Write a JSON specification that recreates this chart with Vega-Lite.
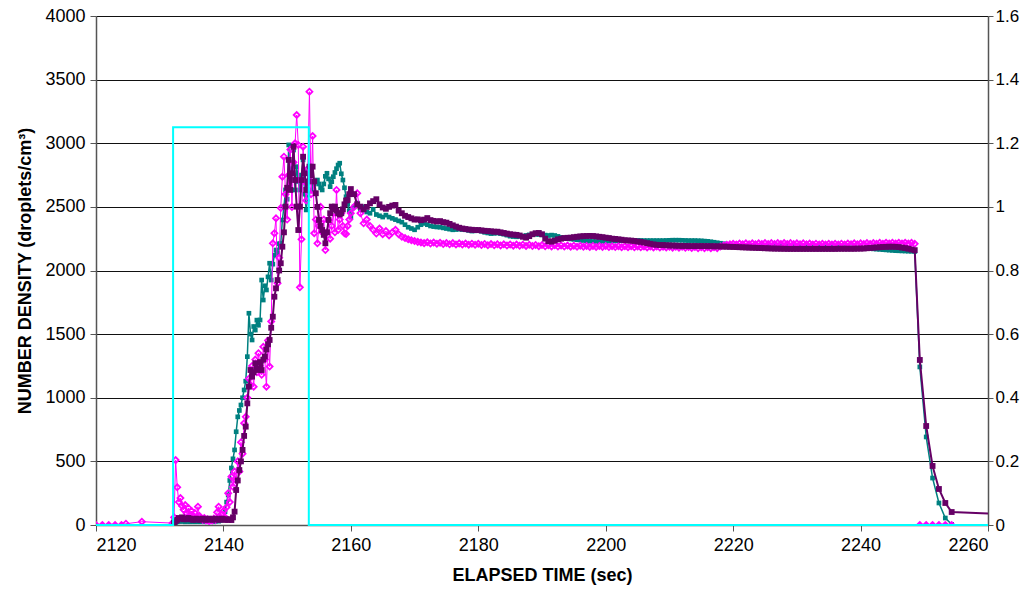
{
"$schema": "https://vega.github.io/schema/vega-lite/v6.json",
"width": 892, "height": 509,
"autosize": {"type": "none"},
"padding": {"left": 96, "top": 16, "right": 33, "bottom": 70},
"background": "white",
"config": {
 "view": {"stroke": null},
 "font": "Liberation Sans",
 "axis": {"labelFont": "Liberation Sans", "labelFontSize": 18, "labelColor": "#000", "titleFont": "Liberation Sans", "titleFontSize": 18, "titleFontWeight": "bold", "titleColor": "#000", "domainColor": "#555", "domainWidth": 1.5, "tickColor": "#555", "tickSize": 6, "labelPadding": 5, "gridColor": "#111", "gridWidth": 1}
},
"datasets": {
"main": [
{"t":2120,"m":0},{"t":2121,"m":0},{"t":2122,"m":0},{"t":2123,"m":0},{"t":2124,"m":0},
{"t":2124.7,"m":10},{"t":2127.2,"m":26},{"t":2132,"m":15},
{"t":2132.25,"g":15,"p":20,"m":60},
{"t":2132.5,"g":20,"p":30,"m":510},
{"t":2132.75,"g":25,"p":40,"m":296},
{"t":2133,"g":30,"p":55,"m":180},
{"t":2133.25,"g":28,"p":50,"m":212},
{"t":2133.5,"g":32,"p":60,"m":150},
{"t":2133.75,"g":30,"p":45,"m":120},
{"t":2134,"g":25,"p":50,"m":157},
{"t":2134.25,"g":30,"p":45,"m":90},
{"t":2134.5,"g":28,"p":55,"m":134},
{"t":2134.75,"g":25,"p":50,"m":80},
{"t":2135,"g":30,"p":45,"m":110},
{"t":2135.25,"g":28,"p":40,"m":70},
{"t":2135.5,"g":25,"p":45,"m":95},
{"t":2135.75,"g":30,"p":50,"m":60},
{"t":2136,"g":28,"p":45,"m":144},
{"t":2136.25,"g":25,"p":40,"m":70},
{"t":2136.5,"g":30,"p":45,"m":50},
{"t":2136.75,"g":28,"p":50,"m":40},
{"t":2137,"g":25,"p":45,"m":55},
{"t":2137.25,"g":30,"p":40,"m":35},
{"t":2137.5,"g":28,"p":45,"m":45},
{"t":2137.75,"g":25,"p":50,"m":30},
{"t":2138,"g":30,"p":45,"m":40},
{"t":2138.25,"g":28,"p":40,"m":35},
{"t":2138.5,"g":25,"p":45,"m":50},
{"t":2138.75,"g":30,"p":50,"m":40},
{"t":2139,"g":35,"p":45,"m":100},
{"t":2139.25,"g":30,"p":40,"m":144},
{"t":2139.5,"g":35,"p":45,"m":60},
{"t":2139.75,"g":40,"p":50,"m":80},
{"t":2140,"g":50,"p":45,"m":110},
{"t":2140.25,"g":105,"p":40,"m":60},
{"t":2140.5,"g":180,"p":45,"m":140},
{"t":2140.75,"g":236,"p":40,"m":250},
{"t":2141,"g":350,"p":45,"m":180},
{"t":2141.25,"g":448,"p":39,"m":380},
{"t":2141.5,"g":520,"p":60,"m":300},
{"t":2141.75,"g":590,"p":105,"m":420},
{"t":2142,"g":733,"p":275,"m":350},
{"t":2142.25,"g":850,"p":350,"m":500},
{"t":2142.5,"g":900,"p":432,"m":420},
{"t":2142.75,"g":943,"p":500,"m":650},
{"t":2143,"g":1000,"p":590,"m":560},
{"t":2143.25,"g":1061,"p":700,"m":800},
{"t":2143.5,"g":1130,"p":773,"m":850},
{"t":2143.75,"g":1323,"p":956,"m":1000},
{"t":2144,"g":1664,"p":1087,"m":1150},
{"t":2144.25,"g":1500,"p":1218,"m":1100},
{"t":2144.5,"g":1454,"p":1166,"m":1250},
{"t":2144.75,"g":1560,"p":1200,"m":1087},
{"t":2145,"g":1532,"p":1271,"m":1300},
{"t":2145.25,"g":1610,"p":1230,"m":1200},
{"t":2145.5,"g":1570,"p":1218,"m":1350},
{"t":2145.75,"g":1611,"p":1280,"m":1250},
{"t":2146,"g":1925,"p":1218,"m":1180},
{"t":2146.25,"g":1768,"p":1300,"m":1400},
{"t":2146.5,"g":1880,"p":1323,"m":1300},
{"t":2146.75,"g":1847,"p":1380,"m":1087},
{"t":2147,"g":1950,"p":1420,"m":1450},
{"t":2147.25,"g":2057,"p":1454,"m":1245},
{"t":2147.5,"g":1925,"p":1550,"m":1600},
{"t":2147.75,"g":2050,"p":1637,"m":2214},
{"t":2148,"g":2120,"p":1794,"m":2293},
{"t":2148.25,"g":2161,"p":1860,"m":2410},
{"t":2148.5,"g":2135,"p":1925,"m":1900},
{"t":2148.75,"g":2210,"p":2000,"m":2100},
{"t":2149,"g":2214,"p":2057,"m":2491},
{"t":2149.25,"g":2397,"p":2187,"m":2737},
{"t":2149.5,"g":2500,"p":2300,"m":2894},
{"t":2149.75,"g":2633,"p":2502,"m":2600},
{"t":2150,"g":2560,"p":2650,"m":2400},
{"t":2150.25,"g":2987,"p":2869,"m":2750},
{"t":2150.5,"g":2711,"p":2633,"m":2950},
{"t":2150.75,"g":2800,"p":2764,"m":2500},
{"t":2151,"g":2947,"p":2973,"m":2850},
{"t":2151.25,"g":2633,"p":2711,"m":3000},
{"t":2151.5,"g":2816,"p":2502,"m":3222},
{"t":2151.75,"g":2700,"p":2318,"m":2987},
{"t":2152,"g":2633,"p":2502,"m":1868},
{"t":2152.25,"g":2750,"p":2711,"m":2245},
{"t":2152.5,"g":2869,"p":2894,"m":2973},
{"t":2152.75,"g":2600,"p":2764,"m":2700},
{"t":2153,"g":2476,"p":2633,"m":2550},
{"t":2153.25,"g":2600,"p":2700,"m":2800},
{"t":2153.5,"g":2764,"p":2816,"m":3405},
{"t":2153.75,"g":2700,"p":2750,"m":2600},
{"t":2154,"g":2633,"p":2816,"m":3057},
{"t":2154.25,"g":2680,"p":2700,"m":2293},
{"t":2154.5,"g":2700,"p":2607,"m":2400},
{"t":2154.75,"g":2711,"p":2500,"m":2214},
{"t":2155,"g":2680,"p":2397,"m":2350},
{"t":2155.25,"g":2650,"p":2350,"m":2500},
{"t":2155.5,"g":2633,"p":2318,"m":2300},
{"t":2155.75,"g":2680,"p":2280,"m":2400},
{"t":2156,"g":2740,"p":2214,"m":2161},
{"t":2156.25,"g":2764,"p":2300,"m":2300},
{"t":2156.5,"g":2720,"p":2397,"m":2397},
{"t":2156.75,"g":2659,"p":2450,"m":2250},
{"t":2157,"g":2698,"p":2502,"m":2350},
{"t":2157.25,"g":2737,"p":2480,"m":2450},
{"t":2157.5,"g":2770,"p":2502,"m":2300},
{"t":2157.75,"g":2800,"p":2470,"m":2633},
{"t":2158,"g":2829,"p":2450,"m":2318},
{"t":2158.25,"g":2843,"p":2440,"m":2400},
{"t":2158.5,"g":2760,"p":2450,"m":2450},
{"t":2158.75,"g":2711,"p":2480,"m":2350},
{"t":2159,"g":2650,"p":2520,"m":2293},
{"t":2159.25,"g":2580,"p":2550,"m":2287},
{"t":2159.5,"g":2520,"p":2554,"m":2350},
{"t":2159.75,"g":2470,"p":2600,"m":2400},
{"t":2160,"g":2420,"p":2640,"m":2450},
{"t":2160.5,"g":2500,"p":2600,"m":2500},
{"t":2161,"g":2530,"p":2520,"m":2607},
{"t":2161.5,"g":2480,"p":2502,"m":2450},
{"t":2162,"g":2500,"p":2480,"m":2371},
{"t":2162.5,"g":2460,"p":2500,"m":2400},
{"t":2163,"g":2450,"p":2528,"m":2350},
{"t":2163.5,"g":2480,"p":2545,"m":2320},
{"t":2164,"g":2440,"p":2560,"m":2290},
{"t":2164.5,"g":2430,"p":2520,"m":2330},
{"t":2165,"g":2420,"p":2495,"m":2285},
{"t":2165.5,"g":2435,"p":2485,"m":2310},
{"t":2166,"g":2420,"p":2500,"m":2275},
{"t":2166.5,"g":2410,"p":2510,"m":2300},
{"t":2167,"g":2400,"p":2515,"m":2320},
{"t":2167.5,"g":2390,"p":2470,"m":2285},
{"t":2168,"g":2380,"p":2450,"m":2265},
{"t":2168.5,"g":2360,"p":2430,"m":2255},
{"t":2169,"g":2340,"p":2420,"m":2245},
{"t":2169.5,"g":2330,"p":2410,"m":2238},
{"t":2170,"g":2320,"p":2400,"m":2232},
{"t":2170.5,"g":2340,"p":2402,"m":2225},
{"t":2171,"g":2360,"p":2395,"m":2220},
{"t":2171.5,"g":2370,"p":2400,"m":2215},
{"t":2172,"g":2360,"p":2412,"m":2222},
{"t":2172.5,"g":2350,"p":2396,"m":2212},
{"t":2173,"g":2345,"p":2390,"m":2220},
{"t":2173.5,"g":2342,"p":2385,"m":2210},
{"t":2174,"g":2340,"p":2388,"m":2218},
{"t":2174.5,"g":2335,"p":2380,"m":2208},
{"t":2175,"g":2330,"p":2376,"m":2216},
{"t":2175.5,"g":2325,"p":2366,"m":2206},
{"t":2176,"g":2320,"p":2355,"m":2215},
{"t":2176.5,"g":2322,"p":2345,"m":2205},
{"t":2177,"g":2325,"p":2336,"m":2213},
{"t":2177.5,"g":2322,"p":2330,"m":2204},
{"t":2178,"g":2320,"p":2326,"m":2212},
{"t":2178.5,"g":2315,"p":2322,"m":2203},
{"t":2179,"g":2310,"p":2320,"m":2211},
{"t":2179.5,"g":2312,"p":2318,"m":2202},
{"t":2180,"g":2315,"p":2318,"m":2210},
{"t":2180.5,"g":2308,"p":2315,"m":2200},
{"t":2181,"g":2300,"p":2312,"m":2209},
{"t":2181.5,"g":2295,"p":2310,"m":2199},
{"t":2182,"g":2290,"p":2308,"m":2208},
{"t":2182.5,"g":2292,"p":2305,"m":2198},
{"t":2183,"g":2295,"p":2305,"m":2207},
{"t":2183.5,"g":2290,"p":2300,"m":2197},
{"t":2184,"g":2285,"p":2295,"m":2206},
{"t":2184.5,"g":2278,"p":2290,"m":2196},
{"t":2185,"g":2270,"p":2285,"m":2205},
{"t":2185.5,"g":2267,"p":2282,"m":2195},
{"t":2186,"g":2265,"p":2280,"m":2204},
{"t":2186.5,"g":2268,"p":2275,"m":2194},
{"t":2187,"g":2270,"p":2265,"m":2203},
{"t":2187.5,"g":2275,"p":2258,"m":2193},
{"t":2188,"g":2280,"p":2270,"m":2202},
{"t":2188.5,"g":2283,"p":2285,"m":2192},
{"t":2189,"g":2285,"p":2293,"m":2201},
{"t":2189.5,"g":2283,"p":2295,"m":2191},
{"t":2190,"g":2280,"p":2285,"m":2200},
{"t":2190.5,"g":2278,"p":2250,"m":2190},
{"t":2191,"g":2275,"p":2230,"m":2199},
{"t":2191.5,"g":2278,"p":2227,"m":2189},
{"t":2192,"g":2275,"p":2235,"m":2198},
{"t":2192.5,"g":2268,"p":2245,"m":2188},
{"t":2193,"g":2260,"p":2250,"m":2197},
{"t":2193.5,"g":2255,"p":2255,"m":2188},
{"t":2194,"g":2250,"p":2257,"m":2196},
{"t":2194.5,"g":2248,"p":2258,"m":2187},
{"t":2195,"g":2245,"p":2262,"m":2195},
{"t":2195.5,"g":2242,"p":2265,"m":2186},
{"t":2196,"g":2240,"p":2268,"m":2194},
{"t":2196.5,"g":2236,"p":2270,"m":2186},
{"t":2197,"g":2232,"p":2271,"m":2193},
{"t":2197.5,"g":2230,"p":2272,"m":2185},
{"t":2198,"g":2228,"p":2271,"m":2193},
{"t":2198.5,"g":2228,"p":2268,"m":2185},
{"t":2199,"g":2228,"p":2265,"m":2192},
{"t":2199.5,"g":2229,"p":2262,"m":2185},
{"t":2200,"g":2230,"p":2258,"m":2192},
{"t":2200.5,"g":2231,"p":2255,"m":2184},
{"t":2201,"g":2232,"p":2250,"m":2191},
{"t":2201.5,"g":2233,"p":2248,"m":2184},
{"t":2202,"g":2234,"p":2245,"m":2191},
{"t":2202.5,"g":2234,"p":2242,"m":2183},
{"t":2203,"g":2235,"p":2238,"m":2190},
{"t":2203.5,"g":2235,"p":2236,"m":2183},
{"t":2204,"g":2236,"p":2235,"m":2190},
{"t":2204.5,"g":2236,"p":2232,"m":2182},
{"t":2205,"g":2236,"p":2228,"m":2189},
{"t":2205.5,"g":2236,"p":2225,"m":2182},
{"t":2206,"g":2235,"p":2220,"m":2189},
{"t":2206.5,"g":2235,"p":2215,"m":2181},
{"t":2207,"g":2235,"p":2210,"m":2188},
{"t":2207.5,"g":2235,"p":2205,"m":2181},
{"t":2208,"g":2235,"p":2202,"m":2188},
{"t":2208.5,"g":2235,"p":2200,"m":2180},
{"t":2209,"g":2235,"p":2200,"m":2187},
{"t":2209.5,"g":2236,"p":2198,"m":2180},
{"t":2210,"g":2237,"p":2197,"m":2187},
{"t":2210.5,"g":2238,"p":2196,"m":2179},
{"t":2211,"g":2238,"p":2195,"m":2186},
{"t":2211.5,"g":2238,"p":2194,"m":2179},
{"t":2212,"g":2237,"p":2193,"m":2186},
{"t":2212.5,"g":2236,"p":2193,"m":2178},
{"t":2213,"g":2235,"p":2192,"m":2185},
{"t":2213.5,"g":2235,"p":2192,"m":2177},
{"t":2214,"g":2235,"p":2192,"m":2184},
{"t":2214.5,"g":2234,"p":2192,"m":2176},
{"t":2215,"g":2233,"p":2192,"m":2183},
{"t":2215.5,"g":2231,"p":2192,"m":2176},
{"t":2216,"g":2229,"p":2191,"m":2182},
{"t":2216.5,"g":2226,"p":2191,"m":2175},
{"t":2217,"g":2222,"p":2190,"m":2182},
{"t":2217.5,"g":2218,"p":2190,"m":2176},
{"t":2218,"g":2214,"p":2189,"m":2188},
{"t":2218.5,"g":2210,"p":2188,"m":2196},
{"t":2219,"g":2206,"p":2187,"m":2202},
{"t":2219.5,"g":2202,"p":2186,"m":2206},
{"t":2220,"g":2200,"p":2185,"m":2210},
{"t":2220.5,"g":2199,"p":2184,"m":2205},
{"t":2221,"g":2198,"p":2183,"m":2212},
{"t":2221.5,"g":2198,"p":2182,"m":2206},
{"t":2222,"g":2197,"p":2181,"m":2213},
{"t":2222.5,"g":2197,"p":2180,"m":2207},
{"t":2223,"g":2196,"p":2179,"m":2214},
{"t":2223.5,"g":2196,"p":2178,"m":2207},
{"t":2224,"g":2195,"p":2177,"m":2214},
{"t":2224.5,"g":2195,"p":2176,"m":2208},
{"t":2225,"g":2195,"p":2175,"m":2215},
{"t":2225.5,"g":2195,"p":2174,"m":2208},
{"t":2226,"g":2195,"p":2173,"m":2215},
{"t":2226.5,"g":2194,"p":2172,"m":2209},
{"t":2227,"g":2194,"p":2172,"m":2216},
{"t":2227.5,"g":2194,"p":2171,"m":2209},
{"t":2228,"g":2194,"p":2171,"m":2216},
{"t":2228.5,"g":2193,"p":2170,"m":2209},
{"t":2229,"g":2193,"p":2170,"m":2215},
{"t":2229.5,"g":2193,"p":2170,"m":2208},
{"t":2230,"g":2192,"p":2170,"m":2214},
{"t":2230.5,"g":2192,"p":2170,"m":2207},
{"t":2231,"g":2192,"p":2170,"m":2213},
{"t":2231.5,"g":2191,"p":2170,"m":2206},
{"t":2232,"g":2190,"p":2170,"m":2212},
{"t":2232.5,"g":2189,"p":2170,"m":2205},
{"t":2233,"g":2188,"p":2170,"m":2211},
{"t":2233.5,"g":2187,"p":2170,"m":2204},
{"t":2234,"g":2186,"p":2170,"m":2210},
{"t":2234.5,"g":2185,"p":2170,"m":2204},
{"t":2235,"g":2184,"p":2170,"m":2210},
{"t":2235.5,"g":2183,"p":2170,"m":2204},
{"t":2236,"g":2182,"p":2170,"m":2210},
{"t":2236.5,"g":2181,"p":2171,"m":2204},
{"t":2237,"g":2180,"p":2171,"m":2211},
{"t":2237.5,"g":2180,"p":2171,"m":2205},
{"t":2238,"g":2179,"p":2171,"m":2212},
{"t":2238.5,"g":2178,"p":2171,"m":2206},
{"t":2239,"g":2178,"p":2171,"m":2213},
{"t":2239.5,"g":2177,"p":2172,"m":2207},
{"t":2240,"g":2176,"p":2172,"m":2214},
{"t":2240.5,"g":2175,"p":2173,"m":2208},
{"t":2241,"g":2174,"p":2175,"m":2215},
{"t":2241.5,"g":2172,"p":2177,"m":2209},
{"t":2242,"g":2170,"p":2179,"m":2216},
{"t":2242.5,"g":2168,"p":2181,"m":2210},
{"t":2243,"g":2166,"p":2183,"m":2217},
{"t":2243.5,"g":2164,"p":2185,"m":2211},
{"t":2244,"g":2162,"p":2186,"m":2218},
{"t":2244.5,"g":2160,"p":2187,"m":2212},
{"t":2245,"g":2158,"p":2187,"m":2218},
{"t":2245.5,"g":2156,"p":2186,"m":2212},
{"t":2246,"g":2155,"p":2184,"m":2218},
{"t":2246.5,"g":2154,"p":2180,"m":2212},
{"t":2247,"g":2153,"p":2176,"m":2218},
{"t":2247.5,"g":2152,"p":2171,"m":2212},
{"t":2248,"g":2151,"p":2165,"m":2217},
{"t":2248.5,"g":2150,"p":2160,"m":2210},
{"t":2249,"m":null},
{"t":2249.3,"g":1242,"p":1297,"m":0},
{"t":2250.3,"g":692,"p":778,"m":0},
{"t":2251.3,"g":369,"p":464,"m":0},
{"t":2252.3,"g":173,"p":283,"m":0},
{"t":2253.3,"g":55,"p":173,"m":0},
{"t":2254.3,"g":5,"p":102,"m":0},
{"t":2262,"p":85}
],
"cyan": [
{"t":2120,"c":0,"i":0},{"t":2132.1,"c":0,"i":1},{"t":2132.1,"c":1.25,"i":2},{"t":2153.4,"c":1.25,"i":3},{"t":2153.4,"c":0,"i":4},{"t":2260,"c":0,"i":5}
]
},
"layer": [
 {
  "data": {"name": "main"},
  "encoding": {
   "x": {"field": "t", "type": "quantitative", "scale": {"domain": [2120, 2260], "nice": false, "zero": false}, "axis": {"values": [2120,2140,2160,2180,2200,2220,2240,2260], "format": "d", "title": "ELAPSED TIME (sec)", "grid": false, "titlePadding": 12}}
  },
  "layer": [
   {"mark": {"type": "line", "color": "#008080", "strokeWidth": 1.5, "invalid": "filter", "clip": true},
    "encoding": {"y": {"field": "g", "type": "quantitative", "scale": {"domain": [0, 4000], "nice": false}, "axis": {"values": [0,500,1000,1500,2000,2500,3000,3500,4000], "format": "d", "grid": true, "title": "NUMBER DENSITY (droplets/cm³)", "titlePadding": 10}}}},
   {"mark": {"type": "point", "shape": "square", "filled": true, "color": "#008080", "size": 22, "opacity": 1, "clip": true},
    "encoding": {"y": {"field": "g", "type": "quantitative", "scale": {"domain": [0, 4000], "nice": false}, "axis": {"values": [0,500,1000,1500,2000,2500,3000,3500,4000], "format": "d", "grid": true, "title": "NUMBER DENSITY (droplets/cm³)", "titlePadding": 10}}}},
   {"mark": {"type": "line", "color": "#FF00FF", "strokeWidth": 1, "clip": true},
    "encoding": {"y": {"field": "m", "type": "quantitative", "scale": {"domain": [0, 4000], "nice": false}, "axis": {"values": [0,500,1000,1500,2000,2500,3000,3500,4000], "format": "d", "grid": true, "title": "NUMBER DENSITY (droplets/cm³)", "titlePadding": 10}}}},
   {"mark": {"type": "point", "shape": "diamond", "filled": false, "color": "#FF00FF", "size": 36, "strokeWidth": 1.8, "opacity": 1, "clip": true},
    "encoding": {"y": {"field": "m", "type": "quantitative", "scale": {"domain": [0, 4000], "nice": false}, "axis": {"values": [0,500,1000,1500,2000,2500,3000,3500,4000], "format": "d", "grid": true, "title": "NUMBER DENSITY (droplets/cm³)", "titlePadding": 10}}}},
   {"mark": {"type": "line", "color": "#660066", "strokeWidth": 2, "invalid": "filter", "clip": true},
    "encoding": {"y": {"field": "p", "type": "quantitative", "scale": {"domain": [0, 4000], "nice": false}, "axis": {"values": [0,500,1000,1500,2000,2500,3000,3500,4000], "format": "d", "grid": true, "title": "NUMBER DENSITY (droplets/cm³)", "titlePadding": 10}}}},
   {"mark": {"type": "point", "shape": "square", "filled": true, "color": "#660066", "size": 34, "opacity": 1, "clip": true},
    "encoding": {"y": {"field": "p", "type": "quantitative", "scale": {"domain": [0, 4000], "nice": false}, "axis": {"values": [0,500,1000,1500,2000,2500,3000,3500,4000], "format": "d", "grid": true, "title": "NUMBER DENSITY (droplets/cm³)", "titlePadding": 10}}}}
  ]
 },
 {
  "data": {"name": "cyan"},
  "mark": {"type": "line", "color": "#00FFFF", "strokeWidth": 2},
  "encoding": {
   "x": {"field": "t", "type": "quantitative", "scale": {"domain": [2120, 2260], "nice": false, "zero": false}},
   "y": {"field": "c", "type": "quantitative", "scale": {"domain": [0, 1.6], "nice": false}, "axis": {"orient": "right", "values": [0,0.2,0.4,0.6,0.8,1,1.2,1.4,1.6], "format": "~f", "grid": false, "title": null, "labelFontSize": 17, "labelPadding": 2, "tickSize": 5}},
   "order": {"field": "i", "type": "quantitative"}
  }
 }
],
"resolve": {"scale": {"y": "independent"}}
}
